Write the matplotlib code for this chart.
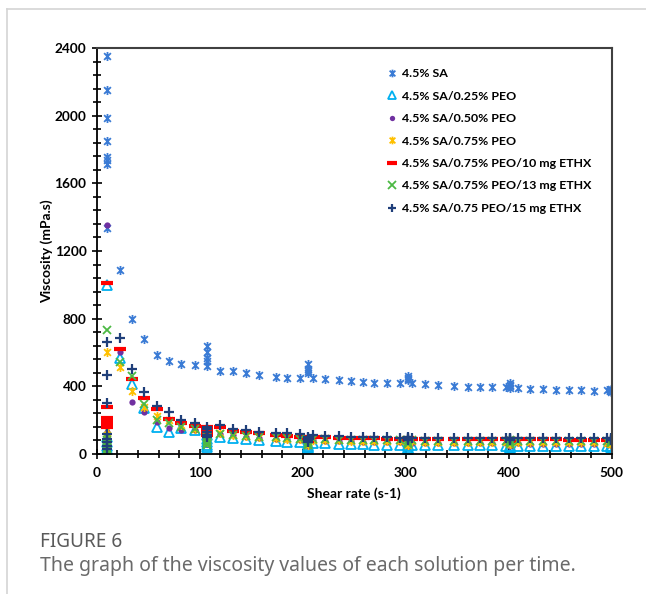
import matplotlib
matplotlib.use("Agg")
import matplotlib.pyplot as plt
from matplotlib.path import Path
from matplotlib.lines import Line2D
from matplotlib.ticker import MultipleLocator

# shear rates (s-1); repeated values are the hold steps of the ramp
SHEAR = [10, 10, 10, 10, 10, 10, 10, 10,
         22, 34, 46, 58, 70, 82, 95,
         107, 107, 107, 107, 107,
         120, 132, 145, 157, 174, 185, 197,
         205, 205, 205, 205,
         210, 222, 235, 247, 258, 269, 282, 294,
         302, 302, 302, 302,
         306, 319, 331, 347, 360, 372, 384, 397,
         401, 401, 401, 401,
         409, 421, 433, 446, 458, 470, 483, 495,
         499, 499, 499, 499]

SA = [2350, 2150, 1985, 1850, 1755, 1740, 1715, 1335,
      1090, 800, 678, 587, 550, 532, 526,
      640, 600, 570, 550, 520,
      493, 493, 481, 467, 457, 451, 451,
      530, 505, 490, 480,
      447, 443, 437, 431, 424, 418, 418, 418,
      462, 452, 445, 438,
      418, 414, 408, 402, 398, 394, 394, 394,
      420, 410, 400, 392,
      388, 382, 382, 378, 378, 378, 372, 378,
      382, 376, 372, 368]

PEO_025 = [1000, 100, 70, 45, 30, 20, 10, 3,
           565, 412, 270, 162, 132, 152, 140,
           110, 90, 70, 55, 43,
           102, 93, 89, 83, 77, 73, 69,
           60, 50, 40, 33,
           66, 64, 62, 60, 58, 56, 55, 54,
           52, 45, 38, 30,
           54, 53, 53, 52, 52, 51, 51, 50,
           50, 45, 40, 35,
           50, 49, 49, 48, 48, 48, 47, 47,
           48, 46, 44, 42]

PEO_050 = [1354, 130, 100, 80, 60, 40, 25, 15,
           605, 309, 246, 191, 156, 142, 140,
           130, 110, 90, 75, 60,
           118, 112, 100, 96, 90, 86, 82,
           75, 65, 55, 45,
           80, 78, 76, 74, 72, 70, 69, 68,
           68, 60, 52, 45,
           67, 66, 66, 65, 65, 64, 64, 63,
           66, 60, 55, 50,
           63, 62, 62, 61, 61, 60, 60, 60,
           62, 58, 55, 52]

PEO_075 = [601, 140, 115, 95, 75, 60, 45, 30,
           516, 372, 280, 226, 201, 170, 150,
           140, 120, 100, 85, 70,
           125, 112, 106, 100, 95, 90, 86,
           85, 75, 65, 55,
           85, 83, 81, 79, 77, 76, 75, 74,
           76, 68, 60, 52,
           74, 73, 73, 72, 72, 71, 71, 70,
           74, 68, 62, 58,
           70, 70, 69, 69, 68, 68, 68, 67,
           70, 66, 62, 58]

ETHX_10 = [1012, 275, 215, 200, 188, 176, 165, 158,
           618, 441, 333, 264, 205, 181, 166,
           160, 148, 135, 120, 110,
           161, 136, 128, 122, 112, 106, 100,
           100, 92, 85, 78,
           100, 98, 96, 95, 93, 92, 91, 90,
           92, 88, 84, 80,
           90, 89, 89, 88, 88, 88, 87, 87,
           90, 86, 82, 78,
           87, 86, 86, 86, 85, 85, 85, 85,
           88, 84, 80, 76]

ETHX_13 = [733, 100, 80, 65, 50, 35, 25, 15,
           546, 461, 296, 201, 181, 160, 150,
           100, 85, 70, 60, 53,
           120, 112, 106, 100, 99, 94, 90,
           80, 70, 60, 52,
           88, 86, 84, 83, 82, 81, 80, 80,
           80, 72, 65, 58,
           80, 79, 79, 78, 78, 78, 77, 77,
           80, 74, 68, 62,
           77, 77, 76, 76, 76, 75, 75, 75,
           78, 74, 70, 66]

ETHX_15 = [660, 467, 303, 120, 90, 70, 50, 30,
           684, 500, 368, 284, 250, 201, 181,
           161, 146, 130, 115, 100,
           171, 146, 142, 132, 126, 122, 118,
           100, 92, 82, 72,
           110, 106, 104, 102, 100, 99, 98, 97,
           100, 95, 88, 80,
           97, 96, 96, 95, 95, 95, 94, 94,
           97, 92, 86, 80,
           94, 94, 93, 93, 93, 92, 92, 92,
           95, 90, 85, 80]

LABELS = ["4.5% SA", "4.5% SA/0.25% PEO", "4.5% SA/0.50% PEO", "4.5% SA/0.75% PEO",
          "4.5% SA/0.75% PEO/10 mg ETHX", "4.5% SA/0.75% PEO/13 mg ETHX",
          "4.5% SA/0.75 PEO/15 mg ETHX"]

# Excel-style star: an x with a vertical bar through it
star = Path([(0, -1), (0, 1), (-0.75, -0.75), (0.75, 0.75), (-0.75, 0.75), (0.75, -0.75)],
            [Path.MOVETO, Path.LINETO, Path.MOVETO, Path.LINETO, Path.MOVETO, Path.LINETO])

styles = [
    dict(marker=star, ms=6.5, mew=1.3, mfc="none", mec="#3a7bd5"),
    dict(marker="^", ms=6.5, mew=1.3, mfc="none", mec="#00b0f0"),
    dict(marker="o", ms=4.5, mew=0, mfc="#7030a0", mec="#7030a0"),
    dict(marker=star, ms=6.5, mew=1.3, mfc="none", mec="#ffc000"),
    dict(marker="_", ms=8, mew=3, mfc="#ff0000", mec="#ff0000"),
    dict(marker="x", ms=6, mew=1.3, mfc="none", mec="#4cb944"),
    dict(marker="+", ms=7, mew=1.6, mfc="none", mec="#1f3f7a"),
]
series = [SA, PEO_025, PEO_050, PEO_075, ETHX_10, ETHX_13, ETHX_15]

fig = plt.figure(figsize=(6.46, 5.94), dpi=100)
ax = fig.add_axes([0.150, 0.2357, 0.797, 0.6835])

for vals, lab, st in zip(series, LABELS, styles):
    ax.plot(SHEAR, vals, ls="none", label=lab, **st)

ax.set_xlim(0, 500)
ax.set_ylim(0, 2400)
ax.xaxis.set_major_locator(MultipleLocator(100))
ax.xaxis.set_minor_locator(MultipleLocator(20))
ax.yaxis.set_major_locator(MultipleLocator(400))
ax.yaxis.set_minor_locator(MultipleLocator(80))
ax.tick_params(which="major", direction="inout", length=7, width=1.2, labelsize=9.8)
ax.tick_params(axis="x", which="major", pad=6)
ax.tick_params(axis="y", which="major", pad=4)
ax.tick_params(which="minor", direction="inout", length=5.5, width=1.2)
for lbl in ax.get_xticklabels() + ax.get_yticklabels():
    lbl.set_fontweight("bold")
    lbl.set_family("Lato")
for side in ("left", "bottom"):
    ax.spines[side].set_linewidth(1.3)
for side in ("top", "right"):
    ax.spines[side].set_linewidth(1.5)
    ax.spines[side].set_color("#404040")

ax.set_xlabel("Shear rate (s-1)", fontsize=10, fontweight="bold", family="Lato", labelpad=6)
ax.set_ylabel("Viscosity (mPa.s)", fontsize=10, fontweight="bold", family="Lato", labelpad=1)

leg = ax.legend(loc="upper left", bbox_to_anchor=(0.548, 0.972), frameon=False,
                prop=dict(family="Lato", weight="bold", size=8.9), markerscale=0.85,
                handlelength=0.7, handletextpad=0.45, labelspacing=0.93, borderpad=0.2)

# page frame and caption
fig.add_artist(Line2D([7 / 646, 1], [1 - 9 / 594, 1 - 9 / 594], color="#d4d4d4", lw=1.2))
fig.add_artist(Line2D([7 / 646, 7 / 646], [0, 1 - 9 / 594], color="#d4d4d4", lw=1.2))
fig.text(40 / 646, 1 - 542 / 594, "FIGURE 6", fontsize=13.7, color="#5a5a5a",
         family="Noto Sans", weight="medium", va="center")
fig.text(40 / 646, 1 - 566 / 594, "The graph of the viscosity values of each solution per time.",
         fontsize=14, color="#6a6a6a", family="Noto Sans", va="center")

fig.savefig("out.png", dpi=100)
